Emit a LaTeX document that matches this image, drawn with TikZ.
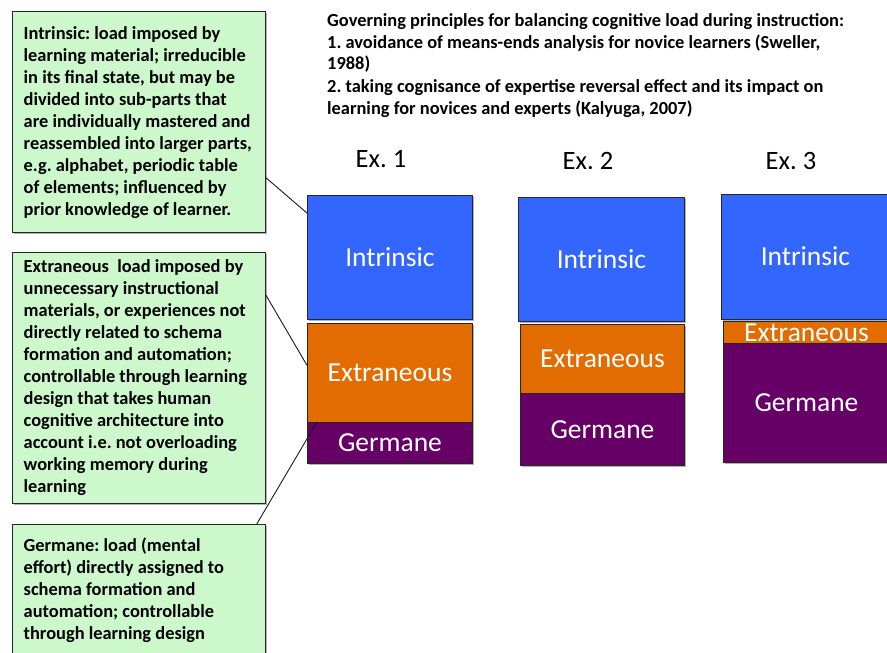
\documentclass[tikz,border=0pt]{standalone}
\usepackage{fontspec}
\setmainfont{Carlito}
\usetikzlibrary{calc,shadows}

\definecolor{notegreen}{RGB}{204,248,204}
\definecolor{loadblue}{RGB}{51,102,255}
\definecolor{loadorange}{RGB}{226,108,0}
\definecolor{loadpurple}{RGB}{102,0,102}

\tikzset{
  softshadow/.style={drop shadow={shadow xshift=1.6pt,shadow yshift=-1.6pt,opacity=0.3,fill=black}},
  notebox/.style={draw=black!85, line width=0.9pt, fill=notegreen, softshadow,
    inner sep=0pt, anchor=north west, minimum width=253pt},
  notetext/.style={align=left, inner sep=0pt, anchor=west,
    font=\fontsize{18.4}{22}\selectfont\bfseries},
  block/.style={draw=black!85, line width=0.9pt, softshadow, inner sep=0pt,
    text=white, font=\fontsize{27.5}{30}\selectfont,
    text height=17.6pt, text depth=0pt, anchor=north west},
  exlabel/.style={font=\fontsize{26.5}{30}\selectfont, inner sep=0pt},
  link/.style={draw=black!90, line width=0.9pt},
}

\begin{document}
\frenchspacing
\begin{tikzpicture}[x=1pt,y=-1pt]
\useasboundingbox (0,0) rectangle (887,653);
\clip (0,0) rectangle (887,653);

% heading
\node[font=\fontsize{18.4}{21.5}\selectfont\bfseries, align=left, inner sep=0pt,
      anchor=north west] (heading) at (327,13.5)
  {Governing principles for balancing cognitive load during instruction:\\
   1. avoidance of means-ends analysis for novice learners (Sweller,\\
   1988)\\[1.5pt]
   2. taking cognisance of expertise reversal effect and its impact on\\
   learning for novices and experts (Kalyuga, 2007)};

% explanatory notes: boxes
\node[notebox, minimum height=221pt] (nIntr) at (12,11) {};
\node[notebox, minimum height=251pt] (nExtr) at (12,252) {};
\node[notebox, minimum height=132pt] (nGerm) at (12,524) {};

% explanatory notes: texts
\node[notetext] (tIntr) at ($(nIntr.west)+(11.5,1)$)
  {Intrinsic: load imposed by\\
   learning material; irreducible\\
   in its final state, but may be\\
   divided into sub-parts that\\
   are individually mastered and\\
   reassembled into larger parts,\\
   e.g. alphabet, periodic table\\
   of elements; influenced by\\
   prior knowledge of learner.};
\node[notetext] (tExtr) at ($(nExtr.west)+(11.5,0)$)
  {Extraneous\ \ load imposed by\\
   unnecessary instructional\\
   materials, or experiences not\\
   directly related to schema\\
   formation and automation;\\
   controllable through learning\\
   design that takes human\\
   cognitive architecture into\\
   account i.e. not overloading\\
   working memory during\\
   learning};
\node[notetext] (tGerm) at ($(nGerm.west)+(11.5,0)$)
  {Germane: load (mental\\
   effort) directly assigned to\\
   schema formation and\\
   automation; controllable\\
   through learning design};

% example column labels
\node[exlabel] (ex1) at (381,159) {Ex. 1};
\node[exlabel] (ex2) at (588,161) {Ex. 2};
\node[exlabel] (ex3) at (791,161) {Ex. 3};

% Ex. 1 stack
\node[block, fill=loadblue,   minimum width=165pt, minimum height=124pt] (aI) at (307,195) {Intrinsic};
\node[block, fill=loadorange, minimum width=165pt, minimum height=99pt]  (aE) at (307,323) {Extraneous};
\node[block, fill=loadpurple, minimum width=165pt, minimum height=41pt]  (aG) at (307,422) {Germane};

% Ex. 2 stack
\node[block, fill=loadblue,   minimum width=166pt, minimum height=124pt] (bI) at (518,197) {Intrinsic};
\node[block, fill=loadorange, minimum width=164pt, minimum height=69pt]  (bE) at (520,324) {Extraneous};
\node[block, fill=loadpurple, minimum width=164pt, minimum height=72pt]  (bG) at (520,393) {Germane};

% Ex. 3 stack
\node[block, fill=loadblue,   minimum width=168pt, minimum height=125pt] (cI) at (721,194) {Intrinsic};
\node[block, fill=loadorange, minimum width=166pt, minimum height=22pt]  (cE) at (723,321) {Extraneous};
\node[block, fill=loadpurple, minimum width=166pt, minimum height=119pt] (cG) at (723,343) {Germane};

% connectors from notes to the Ex. 1 stack
\draw[link] ($(nIntr.north east)!0.751!(nIntr.south east)$) -- ($(aI.north west)!0.145!(aI.south west)$);
\draw[link] ($(nExtr.north east)!0.171!(nExtr.south east)$) -- ($(aE.north west)!0.424!(aE.south west)$);
\draw[link] ($(nGerm.north west)!0.964!(nGerm.north east)$) -- ($(aG.north west)!0.06!(aG.north east)$);
\end{tikzpicture}
\end{document}
